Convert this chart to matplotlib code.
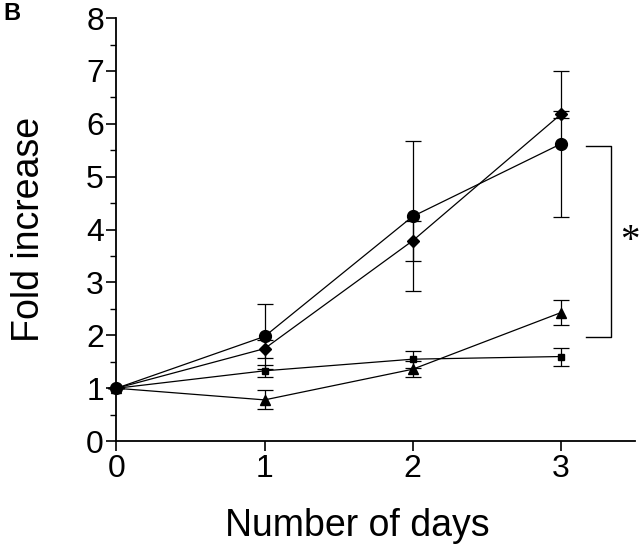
import numpy as np
import matplotlib.pyplot as plt

plt.rcParams['font.family'] = ['Liberation Sans', 'DejaVu Sans']

# data
days = [0, 1, 2, 3]
circle = [1.0, 1.98, 4.25, 5.62]
circle_err = [0.0, 0.62, 1.42, 1.38]
diamond = [1.0, 1.75, 3.79, 6.18]
diamond_err = [0.0, 0.17, 0.38, 0.06]
square = [1.0, 1.33, 1.55, 1.60]
square_err = [0.0, 0.11, 0.16, 0.17]
triangle = [1.0, 0.78, 1.36, 2.43]
triangle_err = [0.0, 0.18, 0.15, 0.24]

# bracket between the groups at day 3
bracket_top = 5.59
bracket_bottom = 1.96

fig = plt.figure(figsize=(6.4, 5.48), dpi=100)
ax = fig.add_axes([0.182, 0.195, 0.81, 0.772])

series = [
    (circle, circle_err, 'o', 8.5),
    (diamond, diamond_err, 'D', 6),
    (square, square_err, 's', 5),
    (triangle, triangle_err, '^', 7),
]
for vals, err, mk, ms in series:
    ax.errorbar(days, vals, yerr=err, fmt='-', marker=mk, ms=ms, color='black',
                mfc='black', mec='black', lw=0.9, elinewidth=0.9, capsize=6,
                capthick=0.9, clip_on=False, zorder=3)

ax.set_xlim(0, 3.5)
ax.set_ylim(0, 8)
ax.set_xticks(days)
ax.set_yticks(range(0, 9))
ax.set_yticks(np.arange(0, 8.5, 0.5), minor=True)
ax.spines['top'].set_visible(False)
ax.spines['right'].set_visible(False)
ax.spines['left'].set_linewidth(1.3)
ax.spines['bottom'].set_linewidth(1.3)
ax.tick_params(axis='both', which='major', labelsize=23, length=7, width=1.2)
ax.tick_params(axis='y', which='minor', length=4, width=1.0)
ax.tick_params(axis='x', pad=2)
ax.tick_params(axis='y', pad=2)

ax.set_xlabel('Number of days', fontsize=27)
ax.xaxis.set_label_coords(0.464, -0.158)
ax.set_ylabel('Fold increase', fontsize=27, labelpad=28)

# significance bracket
ax.plot([3.17, 3.34, 3.34, 3.17], [bracket_top, bracket_top, bracket_bottom, bracket_bottom],
        color='black', lw=1.0, clip_on=False)
ax.text(3.465, (bracket_top + bracket_bottom) / 2, '*', fontsize=28,
        family='Liberation Serif', ha='center', va='center', clip_on=False)

fig.text(0.005, 0.975, 'B', fontsize=17, fontweight='bold', ha='left', va='center')

fig.savefig('out.png', dpi=100)
